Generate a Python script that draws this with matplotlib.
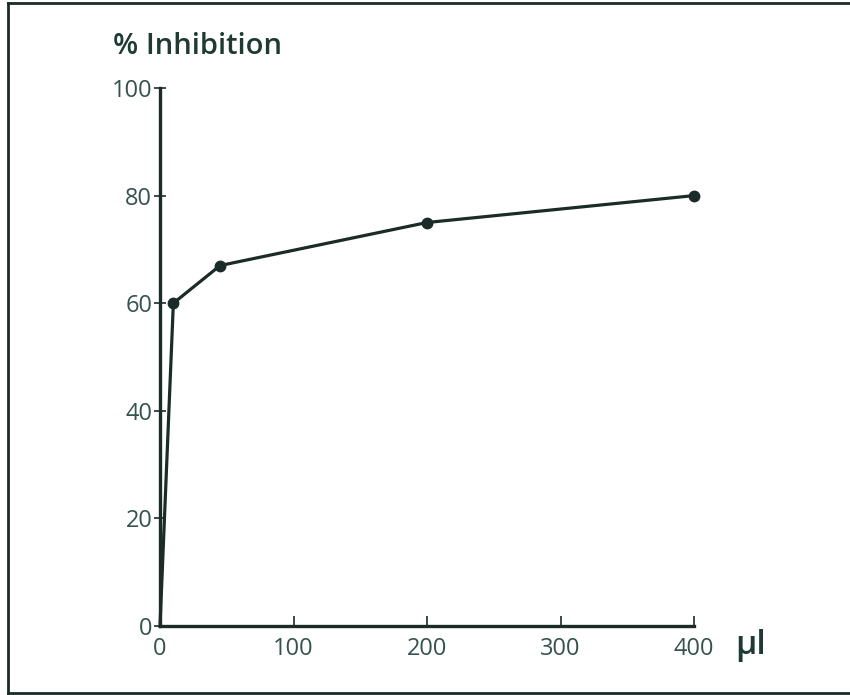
import matplotlib
matplotlib.use("Agg")
import matplotlib.pyplot as plt
from matplotlib.lines import Line2D

# Dose (µl) vs. percent inhibition
dose_ul = [0, 10, 45, 200, 400]
inhibition_pct = [0, 60, 67, 75, 80]
x_ticks = [0, 100, 200, 300, 400]
y_ticks = [0, 20, 40, 60, 80, 100]

ink = "#1b2b27"
label_col = "#35524f"

W, H = 850, 695
fig = plt.figure(figsize=(W / 100, H / 100), dpi=100)
fig.patch.set_facecolor("white")

# outer frame (left, top, bottom edges)
for xs, ys in [([8 / W, 8 / W], [2 / H, 692 / H]),
               ([8 / W, 1.0], [692 / H, 692 / H]),
               ([8 / W, 1.0], [2 / H, 2 / H])]:
    fig.add_artist(Line2D(xs, ys, transform=fig.transFigure, color=ink, lw=2.0))

ax = fig.add_axes([160 / W, (H - 626) / H, 534 / W, 538 / H])
ax.set_facecolor("none")
ax.plot(dose_ul, inhibition_pct, color=ink, lw=2.3, marker="o", ms=7.5,
        markevery=[1, 2, 3, 4], mfc=ink, mec=ink, clip_on=False, zorder=3)

ax.set_xlim(0, 400)
ax.set_ylim(0, 100)
ax.set_xticks(x_ticks)
ax.set_yticks(y_ticks)
ax.set_xticklabels([str(v) for v in x_ticks])
ax.set_yticklabels([str(v) for v in y_ticks])

for s in ["top", "right"]:
    ax.spines[s].set_visible(False)
for s in ["left", "bottom"]:
    ax.spines[s].set_color(ink)
    ax.spines[s].set_linewidth(2.4)

ax.tick_params(axis="x", direction="in", length=7, width=1.2, color=ink,
               labelsize=17, labelcolor=label_col, pad=8)
ax.tick_params(axis="y", direction="inout", length=9, width=1.2, color=ink,
               labelsize=17, labelcolor=label_col, pad=1)
for lbl in ax.get_xticklabels() + ax.get_yticklabels():
    lbl.set_family(["Open Sans", "DejaVu Sans"])

fig.text(113 / W, (H - 46) / H, "% Inhibition", fontsize=21, color="#1e3a33",
         fontweight="semibold", family=["Open Sans", "DejaVu Sans"],
         va="center", ha="left")
fig.text(735 / W, (H - 645) / H, "µl", fontsize=24, color="#1e3a33",
         fontweight="semibold", family=["Open Sans", "DejaVu Sans"],
         va="center", ha="left")

fig.savefig("out.png", dpi=100, facecolor="white")
